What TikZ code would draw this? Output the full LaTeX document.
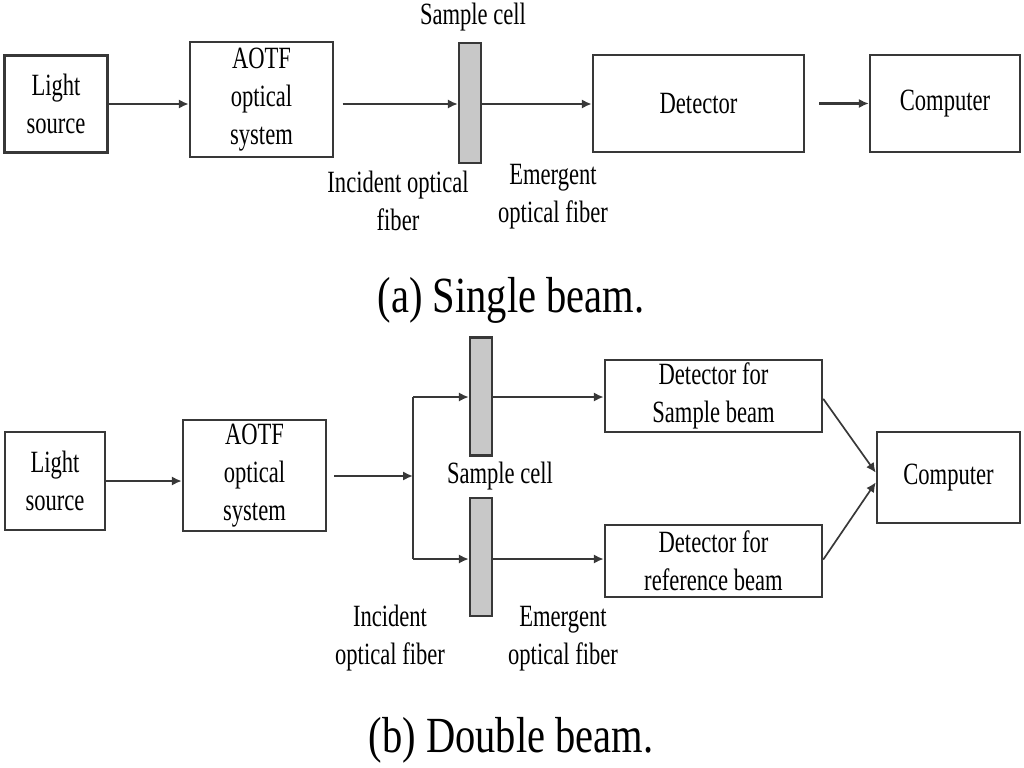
\documentclass[tikz,border=0pt]{standalone}
\usepackage{fontspec}
\setmainfont[FakeStretch=0.73]{Liberation Serif}
\newfontfamily\capfont[FakeStretch=0.8]{Liberation Serif}
\usetikzlibrary{arrows.meta}
\definecolor{edgegray}{HTML}{383838}
\definecolor{cellgray}{HTML}{C8C8C8}
\tikzset{
  box/.style={draw=edgegray, line width=1.7pt, align=center, inner sep=0pt, font=\fontsize{22}{27}\selectfont},
  cell/.style={draw=edgegray, fill=cellgray, line width=1.7pt, inner sep=0pt, minimum width=0.55cm},
  lbl/.style={align=center, font=\fontsize{22}{27}\selectfont},
  captxt/.style={font=\capfont\fontsize{36}{40}\selectfont},
  arr/.style={draw=edgegray, line width=1.7pt, -{Latex[length=7pt,width=6.5pt]}},
  ln/.style={draw=edgegray, line width=1.7pt},
}
\begin{document}
\begin{tikzpicture}[x=0.025cm, y=-0.025cm]
\useasboundingbox (0,0) rectangle (1024,768);
% (a) single beam
\node[box, minimum width=2.575cm, minimum height=2.425cm] (lsA) at (56,104) {Light\\source};
\node[box, minimum width=3.575cm, minimum height=2.875cm] (aotfA) at (261.5,99.5) {AOTF\\optical\\system};
\node[cell, minimum height=3cm] (cellA) at (470,103) {};
\node[box, minimum width=5.275cm, minimum height=2.425cm] (detA) at (698.5,103.5) {Detector};
\node[box, minimum width=3.75cm, minimum height=2.425cm] (compA) at (945,103.5) {Computer};
\draw[arr] (lsA.east) -- (lsA.east -| aotfA.west);
\draw[arr, shorten <=6pt] (aotfA.east |- lsA) -- (lsA -| cellA.west);
\draw[arr] (cellA.east |- lsA) -- (lsA -| detA.west);
\draw[arr, shorten <=10pt] (detA.east) -- (compA.west);
\node[lbl] (cellAtxt) at (473,17) {Sample cell};
\node[lbl] (incA) at (398,201) {Incident optical\\fiber};
\node[lbl] (emgA) at (553,197) {Emergent\\optical fiber};
\node[captxt] (capA) at (511,300) {(a) Single beam.};
% (b) double beam
\node[box, minimum width=2.5cm, minimum height=2.45cm] (lsB) at (55,481) {Light\\source};
\node[box, minimum width=3.575cm, minimum height=2.775cm] (aotfB) at (254.5,475.5) {AOTF\\optical\\system};
\coordinate (jB) at (413,476);
\coordinate (jTop) at (413,397);
\coordinate (jBot) at (413,559);
\node[cell, minimum height=2.95cm] (cellB1) at (481,396.5) {};
\node[cell, minimum height=2.95cm] (cellB2) at (481,557) {};
\node[box, minimum width=5.425cm, minimum height=1.8cm] (detB1) at (713.5,396) {Detector for\\Sample beam};
\node[box, minimum width=5.425cm, minimum height=1.8cm] (detB2) at (713.5,561) {Detector for\\reference beam};
\node[box, minimum width=3.575cm, minimum height=2.275cm] (compB) at (948.5,477.5) {Computer};
\draw[arr] (lsB.east) -- (lsB.east -| aotfB.west);
\draw[arr, shorten <=5pt] (aotfB.east |- jB) -- (jB);
\draw[ln] (jTop) -- (jBot);
\draw[arr] (jTop) -- (jTop -| cellB1.west);
\draw[arr] (jBot) -- (jBot -| cellB2.west);
\draw[arr] (cellB1.east |- jTop) -- (jTop -| detB1.west);
\draw[arr] (cellB2.east |- jBot) -- (jBot -| detB2.west);
\draw[arr, line width=1.2pt] ([yshift=-2pt]detB1.east) -- ([yshift=0.12cm]compB.west);
\draw[arr, line width=1.2pt] ([yshift=1pt]detB2.east) -- ([yshift=-0.12cm]compB.west);
\node[lbl] (cellBtxt) at (500,476) {Sample cell};
\node[lbl] (incB) at (390,638) {Incident\\optical fiber};
\node[lbl] (emgB) at (563,639) {Emergent\\optical fiber};
\node[captxt] (capB) at (511,740) {(b) Double beam.};
\end{tikzpicture}
\end{document}
